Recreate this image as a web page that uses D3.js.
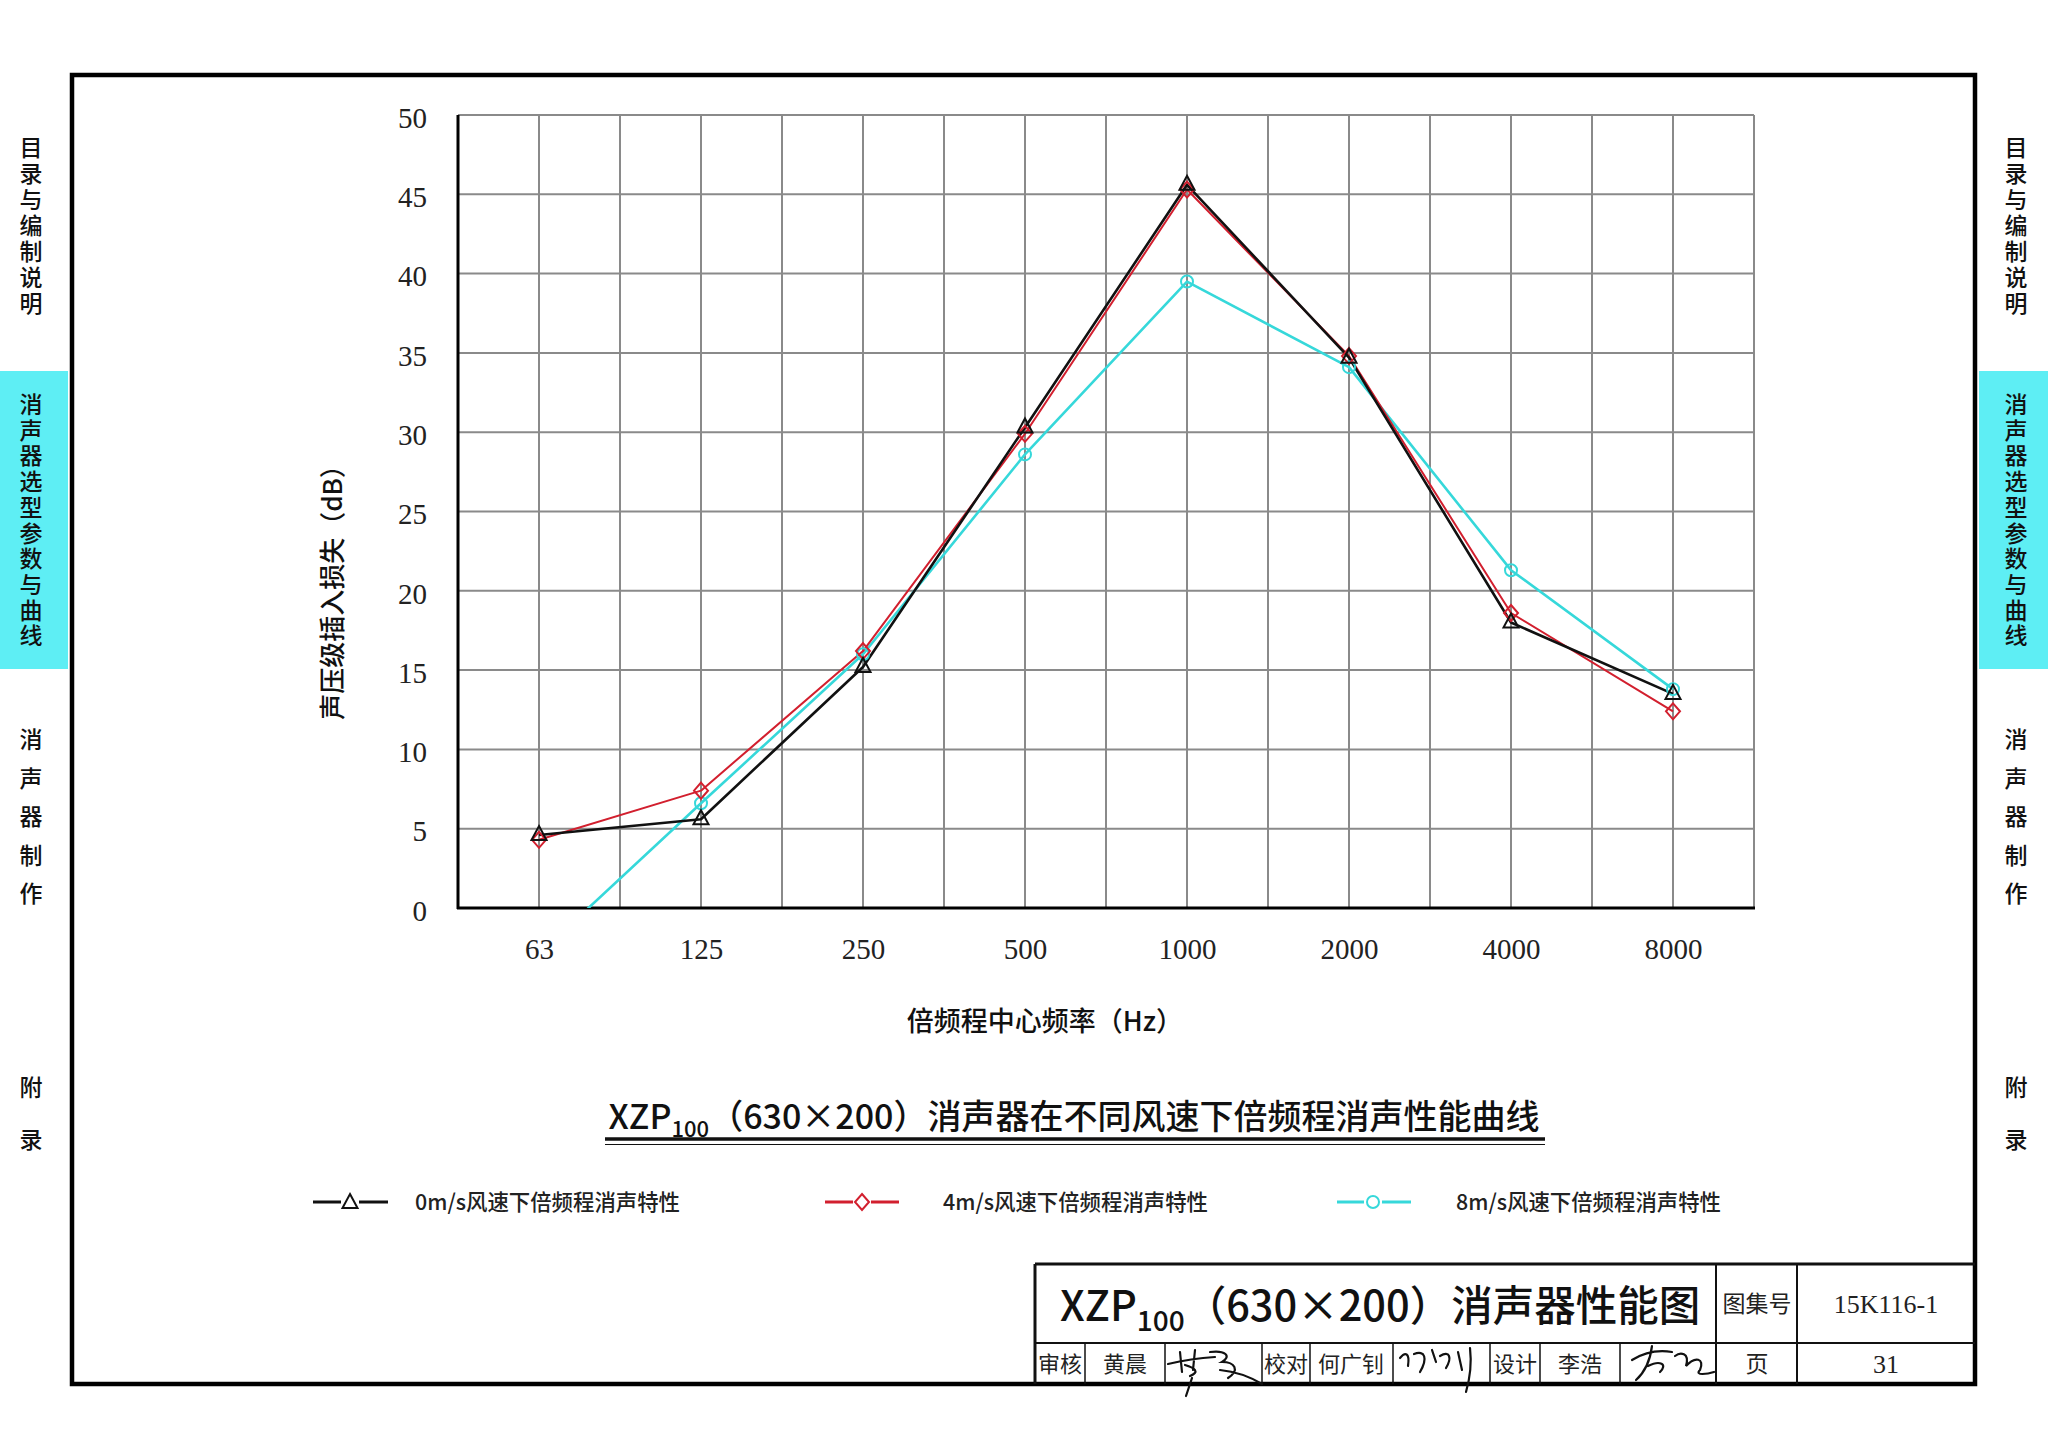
<!DOCTYPE html>
<html><head><meta charset="utf-8">
<script src="https://cdn.jsdelivr.net/npm/d3@7"></script>
<style>
html,body{margin:0;padding:0;background:#fff;}
svg{display:block;}
</style>
</head><body>
<svg id="c" width="2048" height="1456"></svg>
<script>
// ---- data ----
const categories = ["63","125","250","500","1000","2000","4000","8000"];
const yTicks = [0,5,10,15,20,25,30,35,40,45,50];
const series0 = [4.6, 5.6, 15.2, 30.3, 45.6, 34.7, 18.0, 13.5];   // 0 m/s
const series4 = [4.3, 7.4, 16.2, 29.9, 45.3, 34.8, 18.6, 12.4];   // 4 m/s
const series8 = [-2.9, 6.6, 16.0, 28.6, 39.5, 34.1, 21.3, 13.8];  // 8 m/s
const seriesNames = ["0m/s风速下倍频程消声特性","4m/s风速下倍频程消声特性","8m/s风速下倍频程消声特性"];
const xTitle = "倍频程中心频率（Hz）";
const yTitle = "声压级插入损失（dB）";
const sideTabs = ["目录与编制说明","消声器选型参数与曲线","消声器制作","附录"];

const svg = d3.select("#c");
const CJK = "'Noto Sans CJK SC','Noto Sans',sans-serif";
const SERIF = "'Liberation Serif','DejaVu Serif',serif";

// ---- frame ----
svg.append("rect").attr("x",0).attr("y",0).attr("width",2048).attr("height",1456).attr("fill","#fff");
svg.append("rect").attr("x",0).attr("y",371).attr("width",68).attr("height",298).attr("fill","#5eeef4");
svg.append("rect").attr("x",1979).attr("y",371).attr("width",69).attr("height",298).attr("fill","#5eeef4");
svg.append("rect").attr("x",72).attr("y",75).attr("width",1903).attr("height",1309)
  .attr("fill","none").attr("stroke","#000").attr("stroke-width",4.5);

// side tabs, one character per text
const tabLayout = [{y0:156,dy:26},{y0:413,dy:25.7},{y0:748,dy:38.5},{y0:1096,dy:52}];
function sideText(cx){
  const g = svg.append("g").attr("font-family",CJK).attr("font-size",23).attr("font-weight",500).attr("fill","#111").attr("text-anchor","middle");
  sideTabs.forEach((t,k)=>{
    t.split("").forEach((ch,i)=>g.append("text").attr("x",cx).attr("y",tabLayout[k].y0+i*tabLayout[k].dy).text(ch));
  });
}
sideText(31);
sideText(2016);

// ---- scales ----
const x = d3.scalePoint().domain(categories).range([458,1754]).padding(0.5);
const y = d3.scaleLinear().domain([0,50]).range([908,115]);
const step = x.step();
const [px0,px1] = x.range();

// grid
const grid = svg.append("g").attr("stroke","#8a8a8a").attr("stroke-width",2);
yTicks.forEach(v=>grid.append("line").attr("x1",px0).attr("x2",px1).attr("y1",y(v)).attr("y2",y(v)));
const vx = [];
categories.forEach(c=>{ vx.push(x(c)-step/2); vx.push(x(c)); });
vx.push(px1);
vx.forEach(xx=>grid.append("line").attr("x1",xx).attr("x2",xx).attr("y1",y(50)).attr("y2",y(0)));

// axes lines
svg.append("line").attr("x1",px0).attr("x2",px0).attr("y1",y(50)).attr("y2",y(0)+1).attr("stroke","#000").attr("stroke-width",3);
svg.append("line").attr("x1",px0-1).attr("x2",px1+1).attr("y1",y(0)).attr("y2",y(0)).attr("stroke","#000").attr("stroke-width",3);

// tick labels via axes
const ya = svg.append("g").attr("transform",`translate(${px0},3)`)
  .call(d3.axisLeft(y).tickValues(yTicks).tickSize(0).tickPadding(31).tickFormat(d3.format("d")));
ya.select(".domain").remove();
ya.selectAll("text").attr("font-family",SERIF).attr("font-size",29).attr("fill","#222");

const xa = svg.append("g").attr("transform",`translate(0,${y(0)+3})`)
  .call(d3.axisBottom(x).tickSize(0).tickPadding(27));
xa.select(".domain").remove();
xa.selectAll("text").attr("font-family",SERIF).attr("font-size",29).attr("fill","#222");

// axis titles
svg.append("text").attr("transform","translate(342,586) rotate(-90)").attr("text-anchor","middle")
  .attr("font-family",CJK).attr("font-size",26).attr("font-weight",500).attr("fill","#111").text(yTitle);
svg.append("text").attr("x",1045).attr("y",1031).attr("text-anchor","middle")
  .attr("font-family",CJK).attr("font-size",27).attr("font-weight",500).attr("fill","#111").text(xTitle);

// ---- series ----
svg.append("defs").append("clipPath").attr("id","plotclip")
  .append("rect").attr("x",px0).attr("y",y(50)).attr("width",px1-px0).attr("height",y(0)-y(50));

const seriesDefs = [
  {vals:series0, color:"#111", w:2.6, marker:"tri"},
  {vals:series4, color:"#d21f2e", w:2.0, marker:"dia"},
  {vals:series8, color:"#36d8da", w:2.6, marker:"cir"}
];
const line = d3.line().x((d,i)=>x(categories[i])).y(d=>y(d));

function drawMarker(g, type, cx, cy, color){
  if(type==="tri"){
    g.append("path").attr("d",`M${cx},${cy-9} L${cx+7.5},${cy+5} L${cx-7.5},${cy+5} Z`)
      .attr("fill","none").attr("stroke",color).attr("stroke-width",2);
  } else if(type==="dia"){
    g.append("path").attr("d",`M${cx},${cy-8} L${cx+7},${cy} L${cx},${cy+8} L${cx-7},${cy} Z`)
      .attr("fill","none").attr("stroke",color).attr("stroke-width",2);
  } else {
    g.append("circle").attr("cx",cx).attr("cy",cy).attr("r",6)
      .attr("fill","none").attr("stroke",color).attr("stroke-width",2);
  }
}

const plot = svg.append("g").attr("clip-path","url(#plotclip)");
[2,1,0].forEach(k=>{
  const s = seriesDefs[k];
  plot.append("path").datum(s.vals).attr("d",line).attr("fill","none")
    .attr("stroke",s.color).attr("stroke-width",s.w).attr("stroke-linejoin","round");
});
[2,1,0].forEach(k=>{
  const s = seriesDefs[k];
  s.vals.forEach((v,i)=>{ drawMarker(plot, s.marker, x(categories[i]), y(v), s.color); });
});

// ---- chart title ----
const tt = svg.append("text").attr("x",1074).attr("y",1129).attr("text-anchor","middle")
  .attr("font-family",CJK).attr("font-size",34).attr("font-weight",500).attr("fill","#111");
tt.append("tspan").text("XZP");
tt.append("tspan").attr("font-size",22).attr("dy",8).text("100");
tt.append("tspan").attr("dy",-8).text("（630×200）消声器在不同风速下倍频程消声性能曲线");
svg.append("line").attr("x1",605).attr("x2",1545).attr("y1",1139).attr("y2",1139).attr("stroke","#111").attr("stroke-width",3.5);
svg.append("line").attr("x1",605).attr("x2",1545).attr("y1",1144.5).attr("y2",1144.5).attr("stroke","#111").attr("stroke-width",1.2);

// ---- legend ----
const legendPos = [{x1:313,x2:388,mx:350,tx:415,tw:265},{x1:825,x2:899,mx:862,tx:943,tw:265},{x1:1337,x2:1411,mx:1373,tx:1456,tw:265}];
const lg = svg.append("g");
seriesDefs.forEach((s,k)=>{
  const p = legendPos[k], ly = 1202;
  lg.append("line").attr("x1",p.x1).attr("x2",p.x2).attr("y1",ly).attr("y2",ly).attr("stroke",s.color).attr("stroke-width",3);
  lg.append("rect").attr("x",p.mx-9).attr("y",ly-10).attr("width",18).attr("height",20).attr("fill","#fff");
  drawMarker(lg, s.marker, p.mx, ly+(s.marker==="tri"?1:0), s.color);
  lg.append("text").attr("x",p.tx).attr("y",ly+8).attr("font-family",CJK).attr("font-size",22)
    .attr("font-weight",500).attr("fill","#222").attr("textLength",p.tw).attr("lengthAdjust","spacingAndGlyphs").text(seriesNames[k]);
});

// ---- title block ----
const tb = svg.append("g").attr("stroke","#111").attr("fill","none");
tb.append("line").attr("x1",1035).attr("x2",1975).attr("y1",1264).attr("y2",1264).attr("stroke-width",3);
tb.append("line").attr("x1",1035).attr("x2",1035).attr("y1",1264).attr("y2",1384).attr("stroke-width",3);
tb.append("line").attr("x1",1035).attr("x2",1975).attr("y1",1343).attr("y2",1343).attr("stroke-width",2);
[1716,1797].forEach(xx=>tb.append("line").attr("x1",xx).attr("x2",xx).attr("y1",1264).attr("y2",1384).attr("stroke-width",2));
[1085,1165,1262,1310,1393,1490,1540,1620].forEach(xx=>tb.append("line").attr("x1",xx).attr("x2",xx).attr("y1",1343).attr("y2",1384).attr("stroke-width",1.5));

const bt = svg.append("text").attr("x",1060).attr("y",1321).attr("font-family",CJK).attr("font-size",41.5).attr("font-weight",500).attr("fill","#111");
bt.append("tspan").text("XZP");
bt.append("tspan").attr("font-size",28).attr("dy",10).text("100");
bt.append("tspan").attr("dy",-10).text("（630×200）消声器性能图");

const small = (tx,cx,cy,fs,fam)=>svg.append("text").attr("x",cx).attr("y",cy).attr("text-anchor","middle")
  .attr("font-family",fam||CJK).attr("font-size",fs).attr("fill","#222").text(tx);
small("图集号",1757,1312,23);
small("15K116-1",1886,1313,26,SERIF);
small("页",1757,1372,23);
small("31",1886,1373,26,SERIF);
small("审核",1060,1372,22);
small("黄晨",1125,1372,22);
small("校对",1286,1372,22);
small("何广钊",1351,1372,22);
small("设计",1515,1372,22);
small("李浩",1580,1372,22);

// signatures (hand-drawn strokes)
const sig = svg.append("g").attr("stroke","#111").attr("fill","none").attr("stroke-width",2.2).attr("stroke-linecap","round");
sig.append("path").attr("d","M1168,1364 C1185,1360 1200,1358 1215,1357 M1180,1352 L1182,1372 M1195,1350 L1193,1370 M1185,1365 C1195,1368 1200,1372 1190,1376 M1210,1352 C1225,1350 1232,1356 1222,1362 C1235,1362 1240,1370 1228,1378 M1220,1370 C1240,1372 1252,1378 1262,1384 M1192,1378 L1186,1396");
sig.append("path").attr("d","M1400,1358 C1405,1352 1410,1352 1408,1366 M1414,1354 C1425,1350 1428,1358 1420,1372 M1432,1350 L1436,1362 M1440,1356 C1450,1350 1452,1358 1446,1368 M1458,1352 L1462,1370 M1470,1348 C1472,1365 1470,1378 1466,1392");
sig.append("path").attr("d","M1632,1360 C1645,1352 1660,1350 1672,1352 M1652,1346 C1650,1362 1645,1372 1636,1380 M1648,1366 C1660,1360 1668,1364 1660,1372 M1675,1356 C1680,1352 1690,1352 1686,1366 C1695,1356 1705,1358 1700,1370 C1694,1376 1708,1374 1714,1372");
</script>
</body></html>
